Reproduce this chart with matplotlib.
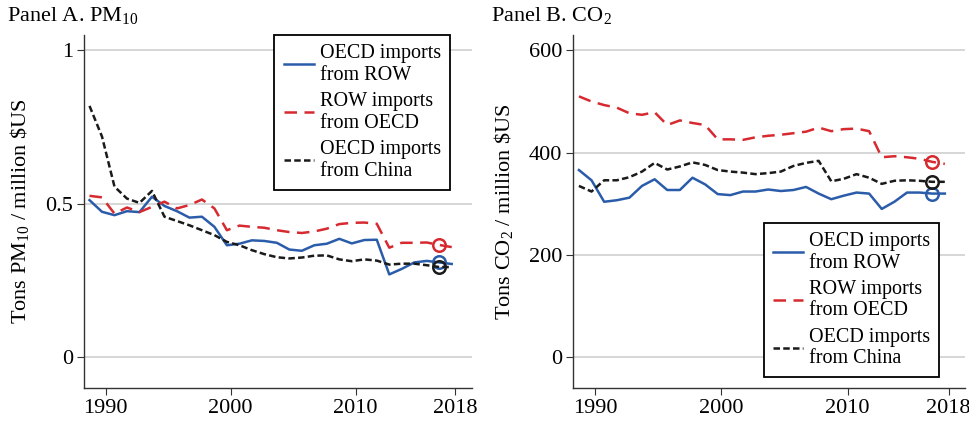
import matplotlib
matplotlib.use("Agg")
from matplotlib import pyplot as plt

plt.rcParams['font.family'] = ['Liberation Serif', 'DejaVu Serif']
plt.rcParams['mathtext.default'] = 'regular'

years = list(range(1989, 2019))
marker_year = 2017

# Panel A: tons PM10 per million $US
pm_oecd_row = [0.512, 0.474, 0.463, 0.476, 0.473, 0.523, 0.493, 0.476, 0.455, 0.458,
               0.425, 0.365, 0.370, 0.381, 0.379, 0.373, 0.351, 0.347, 0.365, 0.370,
               0.386, 0.371, 0.382, 0.383, 0.270, 0.288, 0.309, 0.314, 0.309, 0.304]
pm_row_oecd = [0.526, 0.521, 0.468, 0.488, 0.473, 0.490, 0.507, 0.485, 0.496, 0.514,
               0.485, 0.414, 0.429, 0.425, 0.422, 0.414, 0.408, 0.405, 0.410, 0.419,
               0.434, 0.438, 0.439, 0.435, 0.357, 0.373, 0.373, 0.374, 0.366, 0.359]
pm_oecd_china = [0.819, 0.719, 0.556, 0.517, 0.503, 0.542, 0.458, 0.444, 0.430, 0.414,
                 0.398, 0.376, 0.365, 0.349, 0.336, 0.326, 0.322, 0.325, 0.331, 0.332,
                 0.319, 0.313, 0.319, 0.315, 0.302, 0.305, 0.305, 0.300, 0.294, 0.294]

# Panel B: tons CO2 per million $US
co2_oecd_row = [366, 346, 304, 307, 312, 335, 348, 327, 327, 351,
                338, 319, 317, 324, 324, 328, 325, 327, 333, 320,
                309, 316, 322, 320, 290, 304, 322, 322, 320, 320]
co2_row_oecd = [510, 500, 493, 488, 477, 474, 479, 454, 463, 458,
                454, 426, 426, 425, 430, 433, 435, 438, 441, 449,
                442, 446, 447, 442, 391, 393, 391, 388, 382, 378]
co2_oecd_china = [335, 324, 346, 346, 352, 363, 380, 367, 373, 381,
                  376, 366, 363, 361, 358, 360, 363, 374, 380, 384,
                  344, 349, 358, 351, 339, 345, 346, 345, 343, 343]

labels = ["OECD imports\nfrom ROW", "ROW imports\nfrom OECD", "OECD imports\nfrom China"]
colors = ["#2a5caa", "#d62a30", "#1a1a1a"]
styles = ["-", (0, (5, 3)), (0, (2.6, 1.3))]

xticks = [1990, 2000, 2010, 2018]
shift = -0.3  # series sit a bit left of the year ticks in the original


def draw_panel(ax, series, ymax, yticks, yticklabels, ylabel):
    xs = [y + shift for y in years]
    handles = []
    for vals, c, ls, lab in zip(series, colors, styles, labels):
        h, = ax.plot(xs, vals, color=c, linestyle=ls, lw=1.8, label=lab)
        handles.append(h)
        i = years.index(marker_year)
        ax.plot(xs[i], vals[i], 'o', ms=9, mfc='none', mec=c, mew=1.8)
    ax.set_xlim(1988.26, 2019.3)
    ax.set_ylim(-0.1 * ymax, 1.05 * ymax)
    ax.set_xticks(xticks)
    ax.set_yticks(yticks)
    ax.set_yticklabels(yticklabels)
    ax.yaxis.grid(True, color="#cfcfcf", lw=1.2)
    ax.set_axisbelow(True)
    for s in ["top", "right"]:
        ax.spines[s].set_visible(False)
    for s in ["left", "bottom"]:
        ax.spines[s].set_color("#333333")
        ax.spines[s].set_linewidth(1.0)
    ax.tick_params(axis='both', labelsize=16, length=5, color="#333333", pad=3)
    ax.set_ylabel(ylabel, fontsize=16, labelpad=10)
    return handles


fig = plt.figure(figsize=(9.69, 4.21), dpi=100)
ax1 = fig.add_axes([0.0867, 0.0784, 0.4001, 0.8385])
ax2 = fig.add_axes([0.5917, 0.0784, 0.4042, 0.8385])

h1 = draw_panel(ax1, [pm_oecd_row, pm_row_oecd, pm_oecd_china], 1.0,
                [0, 0.5, 1], ["0", "0.5", "1"], r"Tons PM$_{10}$ / million \$US")
h2 = draw_panel(ax2, [co2_oecd_row, co2_row_oecd, co2_oecd_china], 600,
                [0, 200, 400, 600], ["0", "200", "400", "600"], r"Tons CO$_2$ / million \$US")

leg_kw = dict(borderaxespad=0, fancybox=False, edgecolor='black', framealpha=1,
              fontsize=14.5, handlelength=1.5, handletextpad=0.3, labelspacing=0.35,
              borderpad=0.45)
leg1 = ax1.legend(handles=h1, loc='upper right', bbox_to_anchor=(0.944, 1.0), **leg_kw)
leg2 = ax2.legend(handles=h2, loc='lower right', bbox_to_anchor=(0.934, 0.03), **leg_kw)
for leg in (leg1, leg2):
    leg.get_frame().set_linewidth(1.3)
    for t in leg.get_texts():
        t.set_linespacing(1.2)

fig.text(0.007, 0.962, "Panel A. PM$_{10}$", fontsize=16, va='center', ha='left')
fig.text(0.507, 0.962, "Panel B. CO$_2$", fontsize=16, va='center', ha='left')

fig.savefig("out.png", dpi=100)
